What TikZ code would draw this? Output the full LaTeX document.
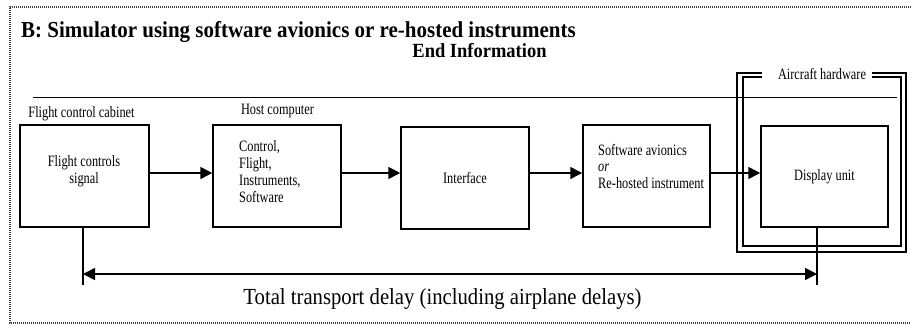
\documentclass[tikz,border=0pt]{standalone}
\usepackage{fontspec}
\setmainfont{Liberation Serif}
\newfontfamily\condf[FakeStretch=0.78]{Liberation Serif}
\newfontfamily\titlef[FakeStretch=0.92]{Liberation Serif}
\newfontfamily\bigf[FakeStretch=0.9]{Liberation Serif}
\usetikzlibrary{arrows.meta}
\begin{document}
\begin{tikzpicture}[x=1pt,y=-1pt,
  box/.style={draw,line width=1.5pt,minimum height=102pt,inner sep=0pt,font=\condf\fontsize{15.8}{16.8}\selectfont,align=center},
  txt/.style={font=\condf\fontsize{15.8}{16.8}\selectfont,inner sep=0pt},
  arr/.style={line width=1.5pt,-{Triangle[length=12pt,width=12pt]}},
  darr/.style={line width=1.5pt,{Triangle[length=12pt,width=12pt]}-{Triangle[length=12pt,width=12pt]}},
  frame/.style={line width=1.2pt},
  border/.style={line width=1.2pt,black!75,dash pattern=on 1pt off 1pt}]
\useasboundingbox (0,0) rectangle (911,325);
% dotted border
\draw[border] (911,7) -- (10,7) -- (10,323) -- (911,323);
% titles
\node[anchor=base west,inner sep=0pt,font=\titlef\fontsize{22.8}{26}\selectfont\bfseries] (title) at (21,37) {B: Simulator using software avionics or re-hosted instruments};
\node[anchor=base,inner sep=0pt,font=\titlef\fontsize{20.1}{24}\selectfont\bfseries] (endinfo) at (479.5,57) {End Information};
% separator line
\draw[line width=1pt] (33,97) -- (897,97);
% aircraft hardware frames
\draw[frame] (762,73) -- (737,73) -- (737,252) -- (906,252) -- (906,73) -- (872,73);
\draw[frame] (762,77) -- (743,77) -- (743,246) -- (901,246) -- (901,77) -- (872,77);
\node[txt,anchor=base] (ahw) at (822,79) {Aircraft hardware};
% group labels
\node[txt,anchor=base] (fcc) at (81.5,117) {Flight control cabinet};
\node[txt,anchor=base] (hc) at (277.5,114) {Host computer};
% boxes
\node[box,minimum width=129pt] (b1) at (84.5,176) {};
\node[box,minimum width=128pt] (b2) at (277,176) {};
\node[box,minimum width=128pt] (b3) at (465,178) {Interface};
\node[box,minimum width=127pt] (b4) at (646.5,176) {};
\node[box,minimum width=127pt,minimum height=101pt] (b5) at (824.5,176.5) {Display unit};
% box texts
\node[txt,align=center] (t1) at (84,171.5) {Flight controls\\signal};
\node[txt,align=left,anchor=west] (t2) at (239,171.5) {Control,\\Flight,\\Instruments,\\Software};
\node[txt,align=left,anchor=west] (t4) at (598,166.5) {Software avionics\\\textit{or}\\Re-hosted instrument};
% arrows between boxes
\coordinate (ya) at (0,173);
\draw[arr] (b1.east |- ya) -- (b2.west |- ya);
\draw[arr] (b2.east |- ya) -- (b3.west |- ya);
\draw[arr] (b3.east |- ya) -- (b4.west |- ya);
\draw[arr] (b4.east |- ya) -- (b5.west |- ya);
% transport delay
\coordinate (dl) at (83,285);
\coordinate (dr) at (817,285);
\coordinate (al) at (83,274);
\coordinate (ar) at (817,274);
\draw[line width=1.5pt] (dl |- b1.south) -- (dl);
\draw[line width=1.5pt] (dr |- b5.south) -- (dr);
\draw[darr] (al) -- (ar);
\node[inner sep=0pt,anchor=base,font=\bigf\fontsize{23}{26}\selectfont] (tot) at (442.5,304) {Total transport delay (including airplane delays)};
\end{tikzpicture}
\end{document}
